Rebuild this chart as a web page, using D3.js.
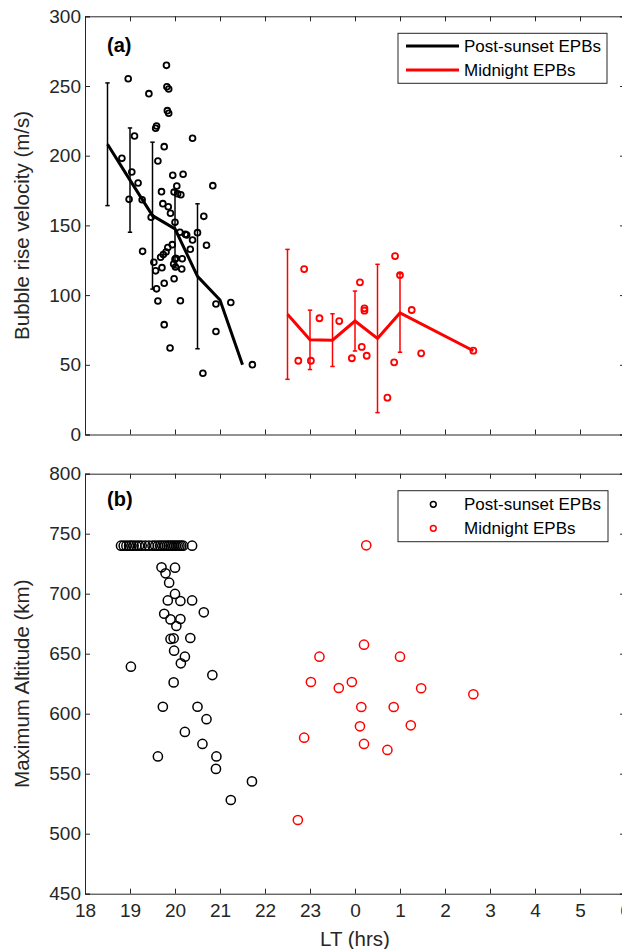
<!DOCTYPE html>
<html>
<head>
<meta charset="utf-8">
<script src="https://cdn.jsdelivr.net/npm/d3@7"></script>
<style>
body { margin: 0; background: #fff; }
svg { display: block; font-family: "Liberation Sans", Arial, sans-serif; }
</style>
</head>
<body>
<svg id="fig" width="622" height="949"></svg>
<script>
// ---------- DATA ----------
// (a) post-sunset scatter: LT (hrs, past 24 = next day), rise velocity (m/s)
var psLT = [19.81,18.96,19.42,19.82,19.86,19.83,19.86,19.59,19.57,19.10,20.39,19.76,18.82,19.62,19.04,19.95,20.18,19.18,20.84,20.04,
            19.70,19.98,20.06,20.13,18.98,19.27,19.73,19.85,20.64,19.47,19.90,20.00,20.11,20.23,20.26,20.50,20.39,20.34,20.70,19.28,
            19.94,19.84,19.80,19.74,19.68,19.53,20.00,20.02,20.16,19.97,20.01,19.71,19.57,20.15,19.98,19.76,19.59,19.62,20.12,20.91,
            21.24,19.76,20.91,19.89,20.62,21.72];
var psVel = [264.8,255.2,244.5,249.5,247.8,232.3,230.4,221.3,219.7,214.1,212.5,206.5,198.1,196.2,188.3,185.9,186.7,180.4,178.5,178.3,
             174.2,174.0,172.7,172.0,168.7,168.4,165.6,163.4,156.5,155.8,158.7,152.2,145.1,143.6,143.1,144.8,139.5,132.9,135.8,131.4,
             136.2,134.1,130.9,129.1,127.1,123.5,125.7,126.4,126.1,122.3,120.2,119.7,117.4,118.7,111.7,108.5,104.5,95.8,95.9,93.6,
             94.7,78.8,73.9,62.1,43.9,50.1];

// (a) midnight scatter
var mnLT = [22.87,22.74,23.02,23.21,23.65,24.11,24.21,24.21,23.93,24.15,24.26,24.89,25.00,25.26,24.87,25.47,24.72,26.63];
var mnVel = [118.7,52.9,52.9,83.4,81.4,109.2,90.5,88.8,54.7,62.8,56.5,128.0,114.4,89.3,51.8,58.2,26.4,60.1];

// (a) binned mean and error
var psBinLT = [18.5,19.0,19.5,20.0,20.5,21.0,21.5];
var psBinMean = [208.2,182.5,157.0,147.5,113.5,96.5,50.0];
var psBinErr = [44.0,37.4,52.7,28.0,52.0,0,0];
var mnBinLT = [22.5,23.0,23.5,24.0,24.5,25.0,26.63];
var mnBinMean = [86.2,67.9,67.7,81.4,68.9,87.2,60.1];
var mnBinErr = [46.6,21.3,18.9,21.5,53.2,28.2,0];

// (b) post-sunset: LT, max altitude (km)
var psAltLT = [18.80,18.86,18.92,18.98,19.03,19.08,19.14,19.20,19.26,19.34,19.42,19.50,19.56,19.62,19.67,19.72,19.77,19.82,19.86,19.90,
               19.94,19.98,20.02,20.06,20.10,20.14,20.18,20.38,
               19.70,20.00,19.79,19.87,20.00,19.84,20.12,20.38,20.64,19.76,19.90,20.12,20.03,19.90,19.97,20.34,19.98,20.22,20.13,19.02,
               20.83,19.97,19.73,20.50,20.70,20.22,20.61,19.62,20.92,20.91,21.24,21.71];
var psAlt = [740,740,740,740,740,740,740,740,740,740,740,740,740,740,740,740,740,740,740,740,
             740,740,740,740,740,740,740,740,
             722.0,721.7,717.0,709.2,699.8,694.4,693.9,694.4,684.5,683.3,678.6,678.9,673.1,662.3,662.8,663.1,652.5,647.5,642.0,639.2,
             632.2,626.1,605.8,605.8,595.4,584.8,574.8,564.4,564.4,554.0,528.1,543.6];

// (b) midnight
var mnAltLT = [24.25,24.20,23.21,25.00,23.02,23.64,23.93,25.47,26.63,24.14,24.86,24.11,25.24,22.87,24.20,24.72,22.73];
var mnAlt = [740.3,657.5,647.5,647.5,626.4,621.4,626.4,621.2,616.2,605.6,605.6,589.5,590.3,580.0,574.8,569.8,511.4];

var xTicks = [18,19,20,21,22,23,24,25,26,27,28,29,30];
var velTicks = [0,50,100,150,200,250,300];
var altTicks = [450,500,550,600,650,700,750,800];
var seriesNames = ["Post-sunset EPBs", "Midnight EPBs"];
var seriesColors = ["#000000", "#ff0000"];

// ---------- LAYOUT ----------
var AX = "#262626";
var svg = d3.select("#fig");
svg.append("rect").attr("width", 622).attr("height", 949).attr("fill", "#fff");

var left = 85, right = 625;
var panelA = {top: 16.3, bottom: 434.5};
var panelB = {top: 473.7, bottom: 893.7};

var x = d3.scaleLinear().domain([18, 30]).range([left, right]);
var yA = d3.scaleLinear().domain([0, 300]).range([panelA.bottom, panelA.top]);
var yB = d3.scaleLinear().domain([450, 800]).range([panelB.bottom, panelB.top]);

// DRAW AXES BOX WITH INWARD TICKS
function drawAxes(y, yTicks, panel, showX) {
    var g = svg.append("g");
    g.append("g").attr("transform", "translate(0," + panel.bottom + ")")
        .call(d3.axisBottom(x).tickValues(xTicks).tickSize(-5).tickPadding(10)
            .tickFormat(function(d) { return showX ? String(d % 24) : ""; }));
    g.append("g").attr("transform", "translate(0," + panel.top + ")")
        .call(d3.axisTop(x).tickValues(xTicks).tickSize(-5).tickFormat(""));
    g.append("g").attr("transform", "translate(" + left + ",0)")
        .call(d3.axisLeft(y).tickValues(yTicks).tickSize(-5).tickPadding(4));
    g.append("g").attr("transform", "translate(" + right + ",0)")
        .call(d3.axisRight(y).tickValues(yTicks).tickSize(-5).tickFormat(""));
    g.selectAll(".domain").attr("stroke", AX).attr("stroke-width", 1);
    g.selectAll(".tick line").attr("stroke", AX).attr("stroke-width", 1);
    g.selectAll("text").attr("fill", AX).style("font-size", "19px").style("font-family", "Liberation Sans, Arial, sans-serif");
    return g;
}

drawAxes(yA, velTicks, panelA, false);
drawAxes(yB, altTicks, panelB, true);

// ---------- PANEL (a) ----------
var ga = svg.append("g");

// error bars
function errorBars(g, lts, means, errs, color) {
    var capW = 2.2;
    lts.forEach(function(t, i) {
        if (errs[i] <= 0) return;
        var cx = x(t), y0 = yA(means[i] - errs[i]), y1 = yA(means[i] + errs[i]);
        g.append("line").attr("x1", cx).attr("x2", cx).attr("y1", y0).attr("y2", y1)
            .attr("stroke", color).attr("stroke-width", 1.5);
        [y0, y1].forEach(function(yy) {
            g.append("line").attr("x1", cx - capW).attr("x2", cx + capW).attr("y1", yy).attr("y2", yy)
                .attr("stroke", color).attr("stroke-width", 1.5);
        });
    });
}

// scatter points
function scatter(g, xs, ys, y, color, r, sw) {
    g.selectAll(null).data(xs).enter().append("circle")
        .attr("cx", function(d) { return x(d); })
        .attr("cy", function(d, i) { return y(ys[i]); })
        .attr("r", r)
        .attr("fill", "none")
        .attr("stroke", color)
        .attr("stroke-width", sw);
}

var meanLine = d3.line().x(function(d) { return x(d[0]); }).y(function(d) { return yA(d[1]); });

scatter(ga, psLT, psVel, yA, seriesColors[0], 2.9, 1.8);
errorBars(ga, psBinLT, psBinMean, psBinErr, seriesColors[0]);
ga.append("path").datum(d3.zip(psBinLT, psBinMean)).attr("d", meanLine)
    .attr("fill", "none").attr("stroke", seriesColors[0]).attr("stroke-width", 3);

scatter(ga, mnLT, mnVel, yA, seriesColors[1], 3, 1.8);
errorBars(ga, mnBinLT, mnBinMean, mnBinErr, seriesColors[1]);
ga.append("path").datum(d3.zip(mnBinLT, mnBinMean)).attr("d", meanLine)
    .attr("fill", "none").attr("stroke", seriesColors[1]).attr("stroke-width", 3);

ga.append("text").attr("x", 107).attr("y", 52).text("(a)")
    .style("font-size", "20px").style("font-weight", "bold").attr("fill", "#000");

// legend (a)
var la = svg.append("g");
la.append("rect").attr("x", 398).attr("y", 33.3).attr("width", 209).attr("height", 50)
    .attr("fill", "#fff").attr("stroke", AX).attr("stroke-width", 1);
seriesNames.forEach(function(n, i) {
    var yy = 46 + i * 24;
    la.append("line").attr("x1", 406).attr("x2", 459).attr("y1", yy).attr("y2", yy)
        .attr("stroke", seriesColors[i]).attr("stroke-width", 3);
    la.append("text").attr("x", 464).attr("y", yy + 6).text(n)
        .style("font-size", "17px").attr("fill", "#000");
});

// ---------- PANEL (b) ----------
var gb = svg.append("g");
scatter(gb, psAltLT, psAlt, yB, seriesColors[0], 4.6, 1.5);
scatter(gb, mnAltLT, mnAlt, yB, seriesColors[1], 4.6, 1.5);

gb.append("text").attr("x", 107).attr("y", 506).text("(b)")
    .style("font-size", "20px").style("font-weight", "bold").attr("fill", "#000");

// legend (b)
var lb = svg.append("g");
lb.append("rect").attr("x", 398).attr("y", 490.7).attr("width", 210).attr("height", 51)
    .attr("fill", "#fff").attr("stroke", AX).attr("stroke-width", 1);
seriesNames.forEach(function(n, i) {
    var yy = 504.3 + i * 24;
    lb.append("circle").attr("cx", 433.3).attr("cy", yy).attr("r", 2.9)
        .attr("fill", "none").attr("stroke", seriesColors[i]).attr("stroke-width", 1.5);
    lb.append("text").attr("x", 464).attr("y", yy + 6).text(n)
        .style("font-size", "17px").attr("fill", "#000");
});

// ---------- AXIS LABELS ----------
svg.append("text").attr("transform", "translate(29," + ((panelA.top + panelA.bottom) / 2) + ") rotate(-90)")
    .attr("text-anchor", "middle").text("Bubble rise velocity (m/s)")
    .style("font-size", "20.5px").attr("fill", AX);
svg.append("text").attr("transform", "translate(29," + ((panelB.top + panelB.bottom) / 2) + ") rotate(-90)")
    .attr("text-anchor", "middle").text("Maximum Altitude (km)")
    .style("font-size", "20.5px").attr("fill", AX);
svg.append("text").attr("x", 355).attr("y", 946)
    .attr("text-anchor", "middle").text("LT (hrs)")
    .style("font-size", "20.5px").attr("fill", AX);
</script>
</body>
</html>
